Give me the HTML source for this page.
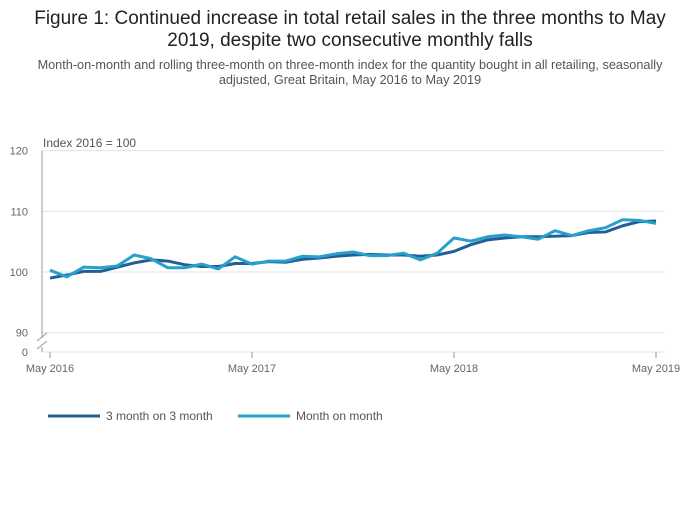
<!DOCTYPE html>
<html><head><meta charset="utf-8"><style>
body{margin:0;background:#fff;font-family:"Liberation Sans",sans-serif;}
svg text{font-family:"Liberation Sans",sans-serif;}
</style></head><body>
<svg width="700" height="502" viewBox="0 0 700 502">
<text x="350" y="24" text-anchor="middle" font-size="19" fill="#222">Figure 1: Continued increase in total retail sales in the three months to May</text>
<text x="350" y="46" text-anchor="middle" font-size="19" fill="#222">2019, despite two consecutive monthly falls</text>
<text x="350" y="69" text-anchor="middle" font-size="12.7" fill="#555">Month-on-month and rolling three-month on three-month index for the quantity bought in all retailing, seasonally</text>
<text x="350" y="84" text-anchor="middle" font-size="12.7" fill="#555">adjusted, Great Britain, May 2016 to May 2019</text>
<text x="43" y="147" font-size="12" fill="#555">Index 2016 = 100</text>
<g id="grid"></g>
<g id="axes"></g>
<g id="series"></g>
<g>
<line x1="48" y1="416" x2="100" y2="416" stroke="#206095" stroke-width="3"/>
<text x="106" y="420" font-size="12" fill="#555">3 month on 3 month</text>
<line x1="238" y1="416" x2="290" y2="416" stroke="#27a0cc" stroke-width="3"/>
<text x="296" y="420" font-size="12" fill="#555">Month on month</text>
</g>
</svg>
<script>
const xTickLabels=["May 2016","May 2017","May 2018","May 2019"];
const yTicks=[90,100,110,120];
const threeMonth=[99.0,99.5,100.1,100.1,100.8,101.5,102.0,101.8,101.2,100.9,100.9,101.4,101.4,101.7,101.6,102.1,102.3,102.6,102.8,102.9,102.8,102.8,102.6,102.8,103.4,104.5,105.3,105.6,105.8,105.8,105.9,106.0,106.5,106.6,107.6,108.3,108.4];
const monthOnMonth=[100.3,99.2,100.8,100.7,101.0,102.8,102.2,100.7,100.7,101.3,100.5,102.5,101.3,101.8,101.8,102.6,102.5,103.0,103.3,102.7,102.7,103.1,102.0,103.1,105.6,105.1,105.8,106.1,105.8,105.4,106.8,106.0,106.8,107.3,108.6,108.5,108.0];
const NS="http://www.w3.org/2000/svg";
const x0=50,x1=656,n=threeMonth.length;
const xS=i=>x0+i*(x1-x0)/(n-1);
const yS=v=>272-(v-100)*6.07;
function mk(t,a,p){const e=document.createElementNS(NS,t);for(const k in a)e.setAttribute(k,a[k]);p.appendChild(e);return e;}
const grid=document.getElementById('grid'),axes=document.getElementById('axes'),ser=document.getElementById('series');
yTicks.forEach(v=>{
 const l=mk('line',{x1:42,x2:665,y1:yS(v),y2:yS(v),stroke:'#e3e3e3'},grid);
 
 
 const t=mk('text',{x:28,y:yS(v)+4,'font-size':11,fill:'#666','text-anchor':'end'},grid);t.textContent=v;
 
 
});
const zl=mk('line',{x1:42,x2:665,y1:352,y2:352,stroke:'#e3e3e3'},grid);


const zt=mk('text',{x:28,y:356,'font-size':11,fill:'#666','text-anchor':'end'},grid);zt.textContent='0';


const ya=mk('path',{d:'M42 151V338M42 347V352',stroke:'#999',fill:'none'},axes);


const br=mk('path',{d:'M37 341L47 333M37 349L47 341',stroke:'#999',fill:'none'},axes);


xTickLabels.forEach((s,k)=>{
 const x=xS(k*12);
 const tk=mk('line',{x1:x,x2:x,y1:352,y2:358,stroke:'#999'},axes);
 
 
 const t=mk('text',{x:x,y:372,'font-size':11,fill:'#666','text-anchor':'middle'},axes);t.textContent=s;
 
 
});
function line(d,c,name){
 const p=mk('polyline',{points:d.map((v,i)=>xS(i)+','+yS(v)).join(' '),fill:'none',stroke:c,'stroke-width':3,'stroke-linejoin':'round'},ser);
 
 
}
line(threeMonth,'#206095','line-3-month-on-3-month');
line(monthOnMonth,'#27a0cc','line-month-on-month');
</script>
</body></html>
